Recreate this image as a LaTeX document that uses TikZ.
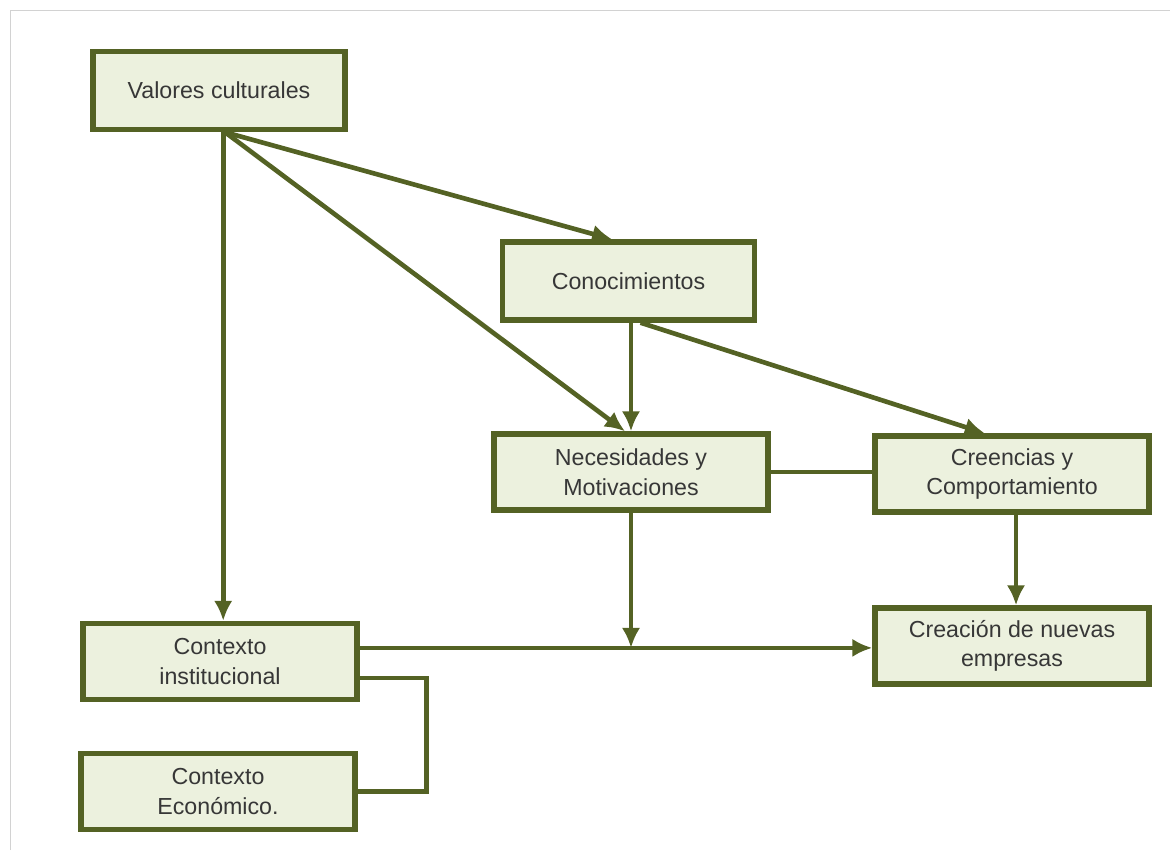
\documentclass[tikz,border=0pt]{standalone}
\usepackage{fontspec}
\setmainfont{Liberation Sans}
\usetikzlibrary{arrows.meta,positioning}
\definecolor{olivo}{RGB}{84,98,36}
\definecolor{verdeclaro}{RGB}{236,241,222}
\definecolor{textogris}{RGB}{55,55,55}

\begin{document}
\begin{tikzpicture}[
		x=0.025cm, y=-0.025cm,
		caja/.style   = {draw=olivo, line width=3.8pt, fill=verdeclaro, rectangle, align=center,
			text=textogris, font=\fontsize{16.5}{21}\selectfont, minimum width=6.85cm, minimum height=1.9cm},
		cajacorta/.style = {caja, minimum width=6.3cm, minimum height=1.95cm},
		flecha/.style = {draw=olivo, line width=3.3pt, ->},
		linea/.style  = {draw=olivo, line width=3.3pt},
		>={Latex[length=5mm,width=4.6mm]}]
		
		% marco y limites
		\useasboundingbox (0,0) rectangle (1170,850);
		\draw[gray!35, line width=0.6pt] (10,850) -- (10,10) -- (1170,10);
		
		% cajas de arriba
		\node[cajacorta] (vc)  at (219,90.5) {Valores culturales};
		\node[cajacorta] (con) at (628.5,281) {Conocimientos};
		
		% cajas del medio
		\node[caja] (nec) at (631,472) {Necesidades y\\Motivaciones};
		\node[caja] (cre) at (1012,474) {Creencias y\\Comportamiento};
		
		% cajas de abajo
		\node[caja] (nue) at (1012,646) {Creación de nuevas\\empresas};
		\node[caja] (ci)  at (220,661.5) {Contexto\\institucional};
		\node[caja] (ce)  at (218,791.5) {Contexto\\Económico.};
		
		% flechas desde los valores culturales
		\draw[flecha] ([xshift=0.08cm]ci.north |- vc.south) -- ([xshift=0.08cm]ci.north);
		\draw[flecha] ([xshift=0.15cm]vc.south) -- ([xshift=-0.41cm]con.north);
		\draw[flecha] ([xshift=0.15cm]vc.south) -- ([xshift=-0.15cm]nec.north);
		
		% flechas desde los conocimientos
		\draw[flecha] (nec.north |- con.south) -- (nec.north);
		\draw[flecha] ([xshift=0.3cm]con.south) -- ([xshift=-0.68cm]cre.north);
		
		\draw[linea] (nec.east) -- (nec.east -| cre.west);
		\draw[flecha] ([xshift=0.1cm]cre.south) -- ([xshift=0.1cm]nue.north);
		
		% hacia la creacion de nuevas empresas
		\coordinate (ciSal) at ([yshift=0.34cm]ci.east);
		\draw[flecha] (ciSal) -- (ciSal -| nue.west);
		\draw[flecha] (nec.south) -- (nec.south |- ciSal);
		
		% enlace entre los dos contextos
		\draw[linea] ([yshift=-0.41cm]ci.east) -- ++(67,0) |- (ce.east);
		
	\end{tikzpicture}
\end{document}
